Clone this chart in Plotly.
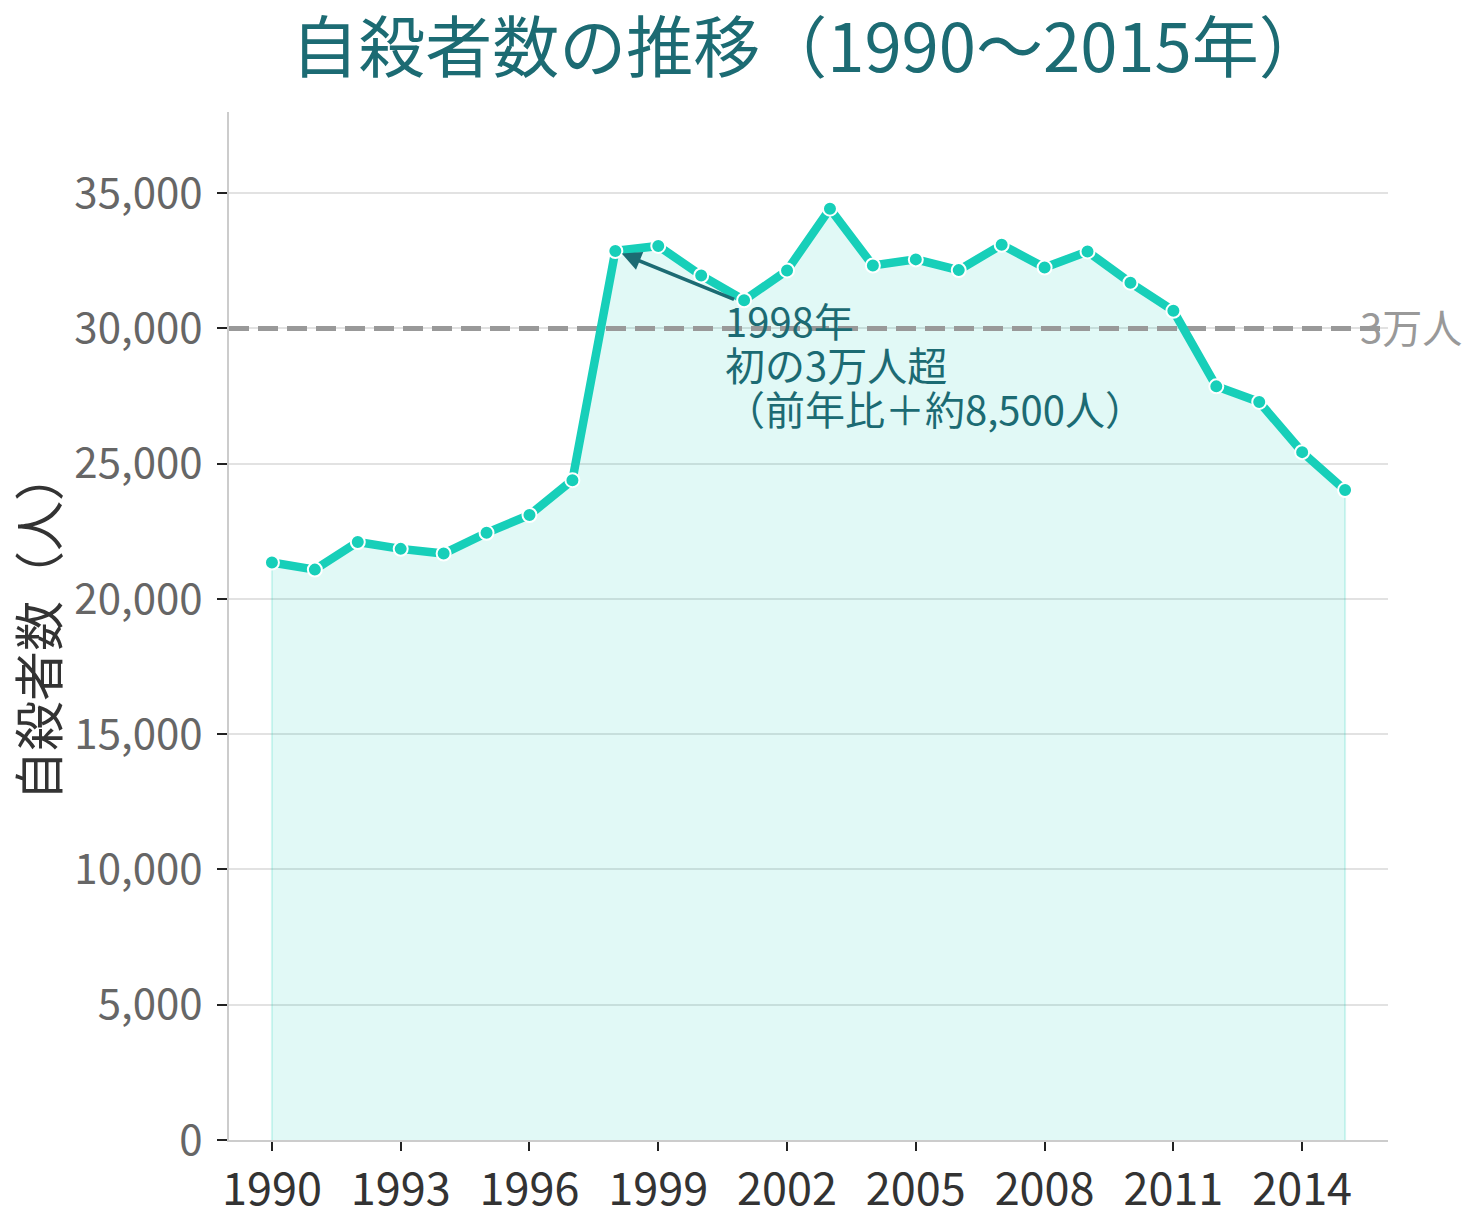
import plotly.graph_objects as go

years = list(range(1990, 2016))
suicides = [21346, 21084, 22104, 21851, 21679, 22445, 23104, 24391,
            32863, 33048, 31957, 31042, 32143, 34427, 32325, 32552,
            32155, 33093, 32249, 32845, 31690, 30651, 27858, 27283,
            25427, 24025]
x_ticks = [1990, 1993, 1996, 1999, 2002, 2005, 2008, 2011, 2014]
y_ticks = [0, 5000, 10000, 15000, 20000, 25000, 30000, 35000]
x_range = [1989, 2016]
y_range = [0, 38000]
threshold = 30000
title_text = "自殺者数の推移（1990～2015年）"
y_title = "自殺者数（人）"
threshold_label = "3万人"
note_lines = ["1998年", "初の3万人超", "（前年比＋約8,500人）"]
note_year = 1998

FONT = "Noto Sans CJK JP"
TEAL = "#17cfb9"
DARK = "#1c6b73"

fig = go.Figure()

# filled area (closed polygon built from the data)
fig.add_trace(go.Scatter(
    x=[years[0]] + years + [years[-1]],
    y=[0] + suicides + [0],
    mode="lines", fill="toself",
    fillcolor="rgba(23,207,185,0.13)",
    line=dict(color="rgba(23,207,185,0.18)", width=2),
    hoverinfo="skip", showlegend=False))

# 30,000 reference line
fig.add_trace(go.Scatter(
    x=x_range, y=[threshold, threshold], mode="lines",
    line=dict(color="#999999", width=5, dash="20px,9px"),
    hoverinfo="skip", showlegend=False))

fig.add_trace(go.Scatter(
    x=years, y=suicides, mode="lines+markers",
    line=dict(color=TEAL, width=8.5),
    marker=dict(size=14, color=TEAL, line=dict(color="white", width=2)),
    showlegend=False))

fig.add_annotation(x=1, xref="paper", xanchor="left", xshift=-30,
                   y=threshold, yref="y", yanchor="middle", yshift=2,
                   text=threshold_label, showarrow=False,
                   font=dict(family=FONT, size=40, color="#999999"))

peak_idx = years.index(note_year)
fig.add_annotation(x=note_year, y=suicides[peak_idx], xref="x", yref="y",
                   ax=2000.8, ay=31050, axref="x", ayref="y",
                   text="", showarrow=True, arrowhead=2, arrowsize=1.1,
                   arrowwidth=3.5, arrowcolor=DARK, standoff=7)

for i, line in enumerate(note_lines):
    fig.add_annotation(x=2000.5, y=31450, xref="x", yref="y",
                       xanchor="left", yanchor="top", align="left",
                       yshift=-44 * i,
                       text=line, showarrow=False,
                       font=dict(family=FONT, size=40, color=DARK))

fig.update_layout(
    width=1480, height=1220,
    margin=dict(l=229, r=92, t=112, b=80),
    paper_bgcolor="white", plot_bgcolor="white",
    font=dict(family=FONT),
    title=dict(text=title_text, x=0.5, xref="paper", xanchor="center",
               y=1 - 49 / 1220, yref="container", yanchor="middle",
               font=dict(family=FONT, size=67, color=DARK)),
)

fig.update_xaxes(
    range=x_range, tickvals=x_ticks, ticktext=[str(v) for v in x_ticks],
    showgrid=False, zeroline=False, automargin=False,
    showline=True, linecolor="#cccccc", linewidth=2,
    ticks="outside", ticklen=9, tickwidth=2, tickcolor="#222222",
    tickfont=dict(family=FONT, size=45, color="#333333"))

fig.update_yaxes(
    range=y_range, tickvals=y_ticks, tickformat=",",
    showgrid=True, gridcolor="#e2e2e2", gridwidth=2, zeroline=False,
    automargin=False,
    showline=True, linecolor="#cccccc", linewidth=2,
    ticks="outside", ticklen=10, tickwidth=2, tickcolor="#222222",
    ticklabelstandoff=6,
    tickfont=dict(family=FONT, size=42, color="#666666"),
    title=dict(text=y_title, standoff=10,
               font=dict(family=FONT, size=50, color="#333333")))

fig.write_html("out.html")
